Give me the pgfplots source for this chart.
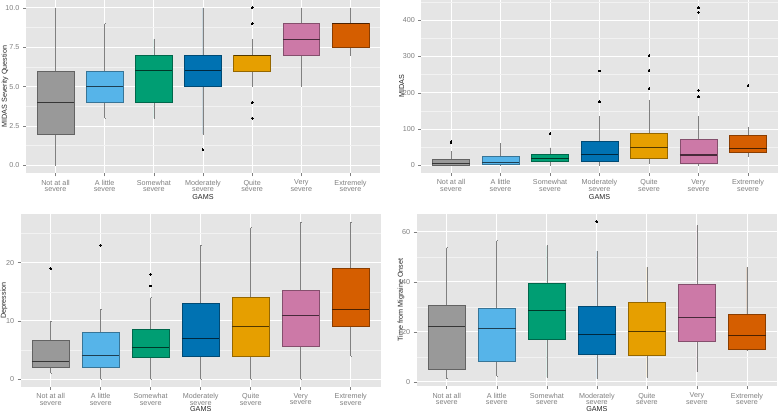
\documentclass[border=0pt]{standalone}
\usepackage{fontspec}
\setmainfont{Liberation Sans}
\usepackage{pgfplots}
\pgfplotsset{compat=1.18}
\usepgfplotslibrary{statistics}
\definecolor{cA}{HTML}{999999}
\definecolor{cB}{HTML}{56B4E9}
\definecolor{cC}{HTML}{009E73}
\definecolor{cD}{HTML}{0072B2}
\definecolor{cE}{HTML}{E69F00}
\definecolor{cF}{HTML}{CC79A7}
\definecolor{cG}{HTML}{D55E00}
\definecolor{panelbg}{HTML}{E5E5E5}
\definecolor{minorg}{HTML}{F2F2F2}
\definecolor{tickgray}{HTML}{7F7F7F}
\pgfplotsset{
  gg/.style={
    scale only axis,
    anchor=south west,
    xmin=0.4, xmax=7.6,
    axis background/.style={fill=panelbg},
    axis line style={draw=none},
    tick pos=left,
    tick align=outside,
    major tick length=3pt,
    minor tick length=0pt,
    tick style={tickgray, line width=0.5pt},
    xtick={1,...,7},
    xticklabels={{Not at all\\severe},{A little\\severe},{Somewhat\\severe},{Moderately\\severe},{Quite\\severe},{Very\\severe},{Extremely\\severe}},
    xticklabel style={align=center, font=\fontsize{7.2}{6.4}\selectfont, text=tickgray},
    yticklabel style={font=\fontsize{7.2}{7.2}\selectfont, text=tickgray},
    /pgf/number format/assume math mode=true,
    grid=both,
    major grid style={white, line width=0.9pt},
    minor grid style={minorg, line width=0.45pt},
    label style={font=\fontsize{7.2}{7.2}\selectfont, text=black!85},
    xlabel={GAMS},
    boxplot/draw direction=y,
    boxplot/box extend=0.75,
    boxplot/whisker extend=0.001,
    boxplot/every whisker/.style={draw=black!50, line width=0.6pt},
  },
  bxs/.style={fill=#1, draw=#1!65!black, line width=0.6pt, mark=none,
    boxplot/every median/.style={draw=#1!35!black, line width=1.1pt}},
  outl/.style={only marks, mark=*, mark size=0.9pt, mark options={fill=black, draw=black, line width=0pt}},
}
\begin{document}
\begin{tikzpicture}
\useasboundingbox (0pt,0pt) rectangle (778pt,414pt);
% Panel 1
\begin{axis}[gg, at={(26pt,240.7pt)}, width=354pt, height=173.3pt,
  ymin=-0.5, ymax=10.5, ytick={0,2.5,5,7.5,10}, yticklabels={0.0,2.5,5.0,7.5,10.0},
  minor ytick={1.25,3.75,6.25,8.75},
  ylabel={MIDAS Severity Question},
  ylabel style={at={(axis description cs:-0.0593,0.5)}, anchor=center},
  xlabel style={at={(axis description cs:0.5,-0.135)}, anchor=center}]
\addplot[bxs=cA, boxplot prepared={draw position=1, lower whisker=0, lower quartile=2, median=4, upper quartile=6, upper whisker=10}] coordinates {};
\addplot[bxs=cB, boxplot prepared={draw position=2, lower whisker=3, lower quartile=4, median=5, upper quartile=6, upper whisker=9}] coordinates {};
\addplot[bxs=cC, boxplot prepared={draw position=3, lower whisker=3, lower quartile=4, median=6, upper quartile=7, upper whisker=8}] coordinates {};
\addplot[bxs=cD, boxplot prepared={draw position=4, lower whisker=2, lower quartile=5, median=6, upper quartile=7, upper whisker=10}] coordinates {};
\addplot[bxs=cE, boxplot prepared={draw position=5, lower whisker=5, lower quartile=6, median=7, upper quartile=7, upper whisker=8}] coordinates {};
\addplot[bxs=cF, boxplot prepared={draw position=6, lower whisker=5, lower quartile=7, median=8, upper quartile=9, upper whisker=10}] coordinates {};
\addplot[bxs=cG, boxplot prepared={draw position=7, lower whisker=7, lower quartile=7.5, median=9, upper quartile=9, upper whisker=10}] coordinates {};
\addplot[outl] coordinates {(4,1) (5,10) (5,9) (5,4) (5,3)};
\end{axis}
% Panel 2
\begin{axis}[gg, at={(421.3pt,240.8pt)}, width=356.4pt, height=173.2pt,
  ymin=-21.7, ymax=455.7, ytick={0,100,200,300,400},
  minor ytick={50,150,250,350,450},
  ylabel={MIDAS},
  ylabel style={at={(axis description cs:-0.055,0.5)}, anchor=center},
  xlabel style={at={(axis description cs:0.5,-0.135)}, anchor=center}]
\addplot[bxs=cA, boxplot prepared={draw position=1, lower whisker=0, lower quartile=0.5, median=5.5, upper quartile=16.5, upper whisker=37.5}] coordinates {};
\addplot[bxs=cB, boxplot prepared={draw position=2, lower whisker=0, lower quartile=3, median=8.5, upper quartile=25.5, upper whisker=60.5}] coordinates {};
\addplot[bxs=cC, boxplot prepared={draw position=3, lower whisker=0, lower quartile=11, median=19, upper quartile=30, upper whisker=47}] coordinates {};
\addplot[bxs=cD, boxplot prepared={draw position=4, lower whisker=0, lower quartile=12, median=30, upper quartile=65, upper whisker=135}] coordinates {};
\addplot[bxs=cE, boxplot prepared={draw position=5, lower whisker=5, lower quartile=18, median=49.5, upper quartile=87, upper whisker=180}] coordinates {};
\addplot[bxs=cF, boxplot prepared={draw position=6, lower whisker=0, lower quartile=5.5, median=28.5, upper quartile=72, upper whisker=134}] coordinates {};
\addplot[bxs=cG, boxplot prepared={draw position=7, lower whisker=25.5, lower quartile=36.5, median=45.5, upper quartile=81.5, upper whisker=104.5}] coordinates {};
\addplot[outl] coordinates {(1,62) (1,65) (3,88) (4,260) (4,175) (5,302) (5,262) (5,212) (6,434) (6,421) (6,207) (6,189) (7,220)};
\end{axis}
% Panel 3
\begin{axis}[gg, at={(20.7pt,27pt)}, width=360pt, height=173pt,
  ymin=-1.35, ymax=28.35, ytick={0,10,20},
  minor ytick={5,15,25},
  ylabel={Depression},
  ylabel style={at={(axis description cs:-0.0464,0.5)}, anchor=center},
  xlabel style={at={(axis description cs:0.5,-0.127)}, anchor=center}]
\addplot[bxs=cA, boxplot prepared={draw position=1, lower whisker=1, lower quartile=2, median=3, upper quartile=6.7, upper whisker=10}] coordinates {};
\addplot[bxs=cB, boxplot prepared={draw position=2, lower whisker=0, lower quartile=2, median=4, upper quartile=8, upper whisker=12}] coordinates {};
\addplot[bxs=cC, boxplot prepared={draw position=3, lower whisker=0, lower quartile=3.75, median=5.5, upper quartile=8.5, upper whisker=14}] coordinates {};
\addplot[bxs=cD, boxplot prepared={draw position=4, lower whisker=0, lower quartile=4, median=7, upper quartile=13, upper whisker=23}] coordinates {};
\addplot[bxs=cE, boxplot prepared={draw position=5, lower whisker=0, lower quartile=4, median=9, upper quartile=14, upper whisker=26}] coordinates {};
\addplot[bxs=cF, boxplot prepared={draw position=6, lower whisker=0, lower quartile=5.7, median=11, upper quartile=15.3, upper whisker=27}] coordinates {};
\addplot[bxs=cG, boxplot prepared={draw position=7, lower whisker=4, lower quartile=9, median=12, upper quartile=19, upper whisker=27}] coordinates {};
\addplot[outl] coordinates {(1,19) (2,23) (3,18) (3,16)};
\end{axis}
% Panel 4
\begin{axis}[gg, at={(416.7pt,27.5pt)}, width=360.3pt, height=172.5pt,
  ymin=-1.83, ymax=67.1, ytick={0,20,40,60},
  minor ytick={10,30,50},
  ylabel={Time from Migraine Onset},
  ylabel style={at={(axis description cs:-0.0436,0.5)}, anchor=center},
  xlabel style={at={(axis description cs:0.5,-0.13)}, anchor=center}]
\addplot[bxs=cA, boxplot prepared={draw position=1, lower whisker=1.3, lower quartile=5.1, median=22.1, upper quartile=30.7, upper whisker=53.6}] coordinates {};
\addplot[bxs=cB, boxplot prepared={draw position=2, lower whisker=2.4, lower quartile=8.2, median=21.3, upper quartile=29.3, upper whisker=56.4}] coordinates {};
\addplot[bxs=cC, boxplot prepared={draw position=3, lower whisker=2, lower quartile=16.9, median=28.5, upper quartile=39.5, upper whisker=54.4}] coordinates {};
\addplot[bxs=cD, boxplot prepared={draw position=4, lower whisker=1.3, lower quartile=11.2, median=19, upper quartile=30.3, upper whisker=52.3}] coordinates {};
\addplot[bxs=cE, boxplot prepared={draw position=5, lower whisker=2, lower quartile=10.8, median=20, upper quartile=31.8, upper whisker=45.8}] coordinates {};
\addplot[bxs=cF, boxplot prepared={draw position=6, lower whisker=4.1, lower quartile=16.2, median=25.8, upper quartile=39, upper whisker=62.4}] coordinates {};
\addplot[bxs=cG, boxplot prepared={draw position=7, lower whisker=12.5, lower quartile=13, median=18.5, upper quartile=26.9, upper whisker=45.8}] coordinates {};
\addplot[outl] coordinates {(4,64)};
\end{axis}
\end{tikzpicture}
\end{document}
